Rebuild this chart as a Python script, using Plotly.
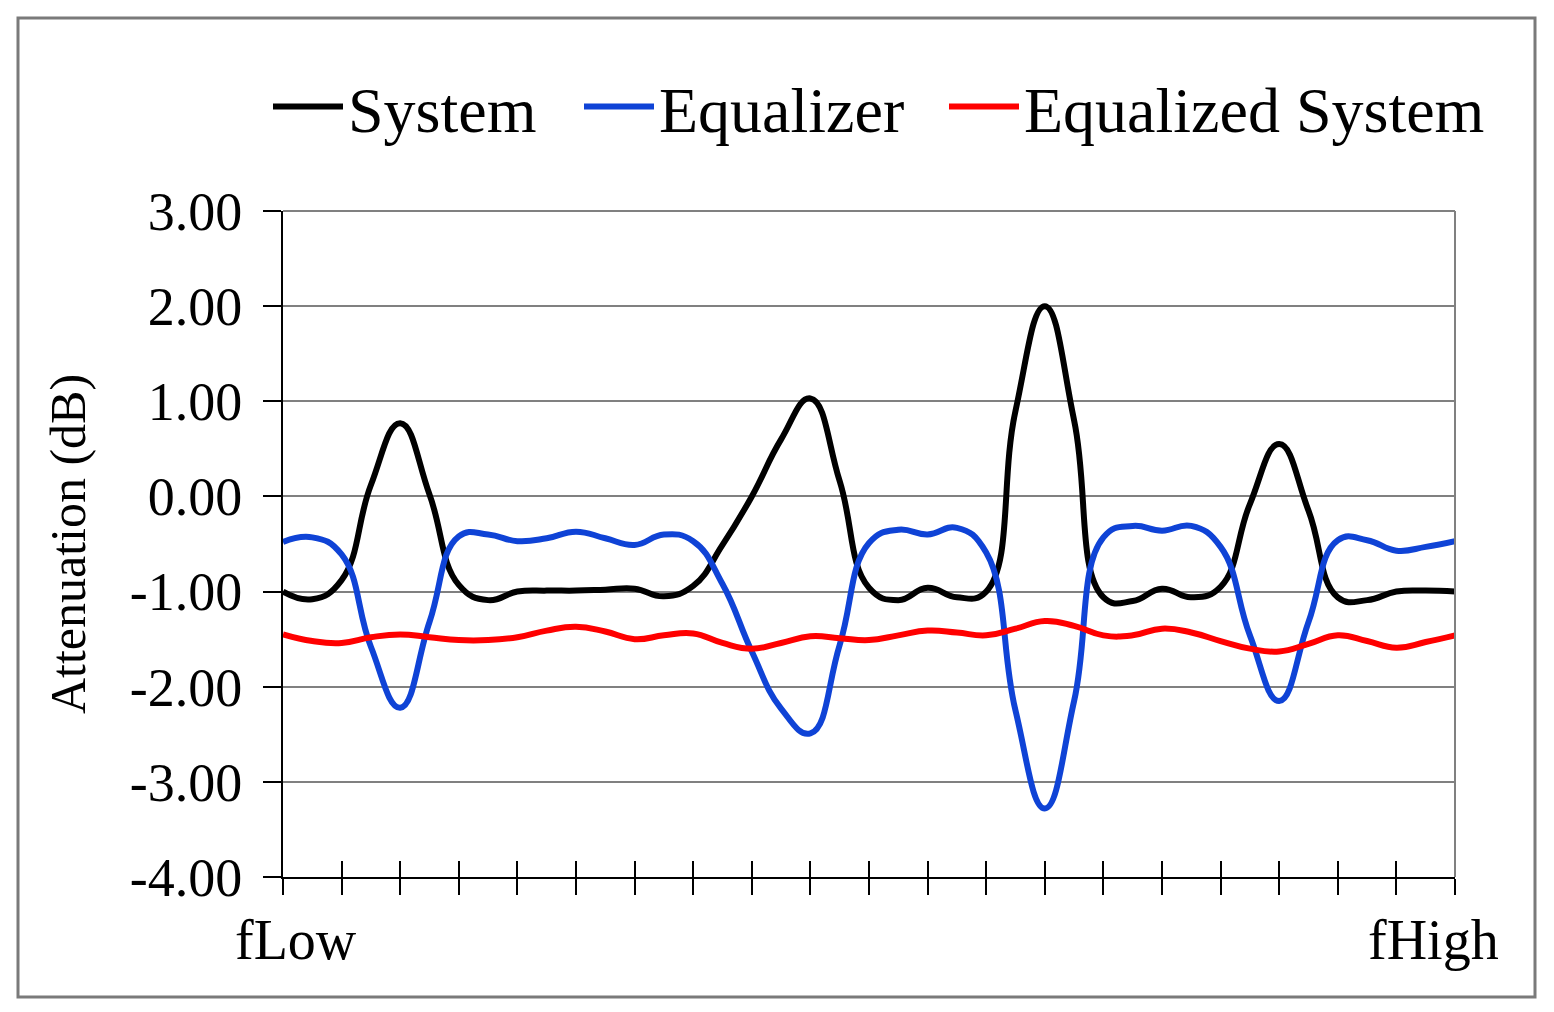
import plotly.graph_objects as go

# positions along the frequency axis: 20 tick intervals, read every half interval
steps = [k / 2 for k in range(41)]
tick_positions = list(range(21))
end_labels = ["fLow", "fHigh"]

system = [-1.00, -1.08, -0.88, 0.12, 0.77, 0.02, -0.93, -1.09, -1.00, -0.99,
          -0.99, -0.98, -0.97, -1.05, -0.94, -0.51, 0.00, 0.60, 1.03, 0.16,
          -0.96, -1.09, -0.96, -1.06, -1.00, 0.90, 2.00, 0.80, -1.06, -1.10,
          -0.97, -1.06, -0.95, -0.08, 0.55, -0.15, -1.06, -1.09, -1.00, -0.99,
          -1.00]
equalizer = [-0.48, -0.43, -0.61, -1.58, -2.22, -1.32, -0.42, -0.40, -0.47, -0.44,
             -0.37, -0.44, -0.51, -0.40, -0.47, -0.92, -1.63, -2.23, -2.49, -1.56,
             -0.49, -0.35, -0.40, -0.33, -0.59, -2.25, -3.28, -2.15, -0.43, -0.31,
             -0.36, -0.31, -0.53, -1.46, -2.15, -1.32, -0.46, -0.46, -0.57, -0.53,
             -0.47]
equalized = [-1.45, -1.52, -1.54, -1.48, -1.45, -1.48, -1.51, -1.51, -1.48, -1.41,
             -1.37, -1.42, -1.50, -1.46, -1.44, -1.54, -1.60, -1.54, -1.47, -1.49,
             -1.51, -1.46, -1.41, -1.43, -1.46, -1.39, -1.31, -1.36, -1.46, -1.46,
             -1.39, -1.43, -1.52, -1.60, -1.63, -1.55, -1.46, -1.52, -1.59, -1.53,
             -1.46]

names = ["System", "Equalizer", "Equalized System"]
colors = ["#000000", "#0f43d6", "#ff0000"]
y_ticks = [3, 2, 1, 0, -1, -2, -3, -4]
y_tick_labels = ["3.00", "2.00", "1.00", "0.00", "-1.00", "-2.00", "-3.00", "-4.00"]

FONT = "Liberation Serif, Times New Roman, serif"

# page geometry (px)
W, H = 1538, 996
L, R, T, B = 275, 91, 203, 127
pw, ph = W - L - R, H - T - B


def px(x):
    return (x - L) / pw


def py(y):
    return (H - B - y) / ph


# one legend box per entry so the entries sit where the original has them
legend_ids = ["legend", "legend2", "legend3"]
legend_left = [260, 571, 936]

fig = go.Figure()
for name, vals, col, lg in zip(names, [system, equalizer, equalized], colors, legend_ids):
    fig.add_trace(go.Scatter(x=steps, y=vals, name=name, mode="lines", legend=lg,
                             line=dict(color=col, width=6, shape="spline", smoothing=1.3)))

# second x axis only for the inner half of the crossing tick marks
fig.data[2].xaxis = "x2"

legend_style = dict(orientation="h", xanchor="left", yanchor="middle", y=py(99),
                    font=dict(size=64, family=FONT), itemwidth=70,
                    bgcolor="rgba(0,0,0,0)", borderwidth=0)
for lg, lx in zip(legend_ids, legend_left):
    fig.update_layout({lg: dict(legend_style, x=px(lx))})

fig.update_layout(
    width=W, height=H,
    margin=dict(l=L, r=R, t=T, b=B),
    paper_bgcolor="white", plot_bgcolor="white",
    font=dict(family=FONT, color="black"),
    showlegend=True,
    xaxis=dict(range=[steps[0], steps[-1]], tickvals=tick_positions,
               ticktext=[""] * len(tick_positions),
               ticks="outside", ticklen=16, tickwidth=2, tickcolor="black",
               showline=True, linecolor="black", linewidth=2,
               showgrid=False, zeroline=False),
    xaxis2=dict(range=[steps[0], steps[-1]], tickvals=tick_positions, showticklabels=False,
                ticks="inside", ticklen=16, tickwidth=2, tickcolor="black",
                overlaying="x", anchor="y", side="bottom",
                showline=False, showgrid=False, zeroline=False),
    yaxis=dict(range=[y_ticks[-1], y_ticks[0]], tickvals=y_ticks, ticktext=y_tick_labels,
               ticks="outside", ticklen=18, tickwidth=2, tickcolor="black",
               ticklabelstandoff=10,
               tickfont=dict(size=54, family=FONT),
               showline=True, linecolor="black", linewidth=2,
               showgrid=True, gridcolor="#808080", gridwidth=2, zeroline=False,
               title=dict(text="Attenuation (dB)", font=dict(size=50, family=FONT),
                          standoff=28)),
)

# category end labels
fig.add_annotation(x=tick_positions[0], xref="x", y=py(932), yref="paper", text=end_labels[0],
                   showarrow=False, xanchor="left", yanchor="middle", xshift=-50,
                   font=dict(size=56, family=FONT))
fig.add_annotation(x=tick_positions[-1], xref="x", y=py(932), yref="paper", text=end_labels[1],
                   showarrow=False, xanchor="right", yanchor="middle", xshift=46,
                   font=dict(size=56, family=FONT))

# top and right border of the plot area
fig.add_shape(type="line", xref="paper", yref="paper", x0=0, x1=1, y0=1, y1=1,
              line=dict(color="#808080", width=2))
fig.add_shape(type="line", xref="paper", yref="paper", x0=1, x1=1, y0=0, y1=1,
              line=dict(color="#808080", width=2))
# outer chart frame
fig.add_shape(type="rect", xref="paper", yref="paper",
              x0=px(10), x1=px(1527), y0=py(989), y1=py(10),
              line=dict(color="#7a7a7a", width=3), layer="below")

fig.write_html("out.html")
